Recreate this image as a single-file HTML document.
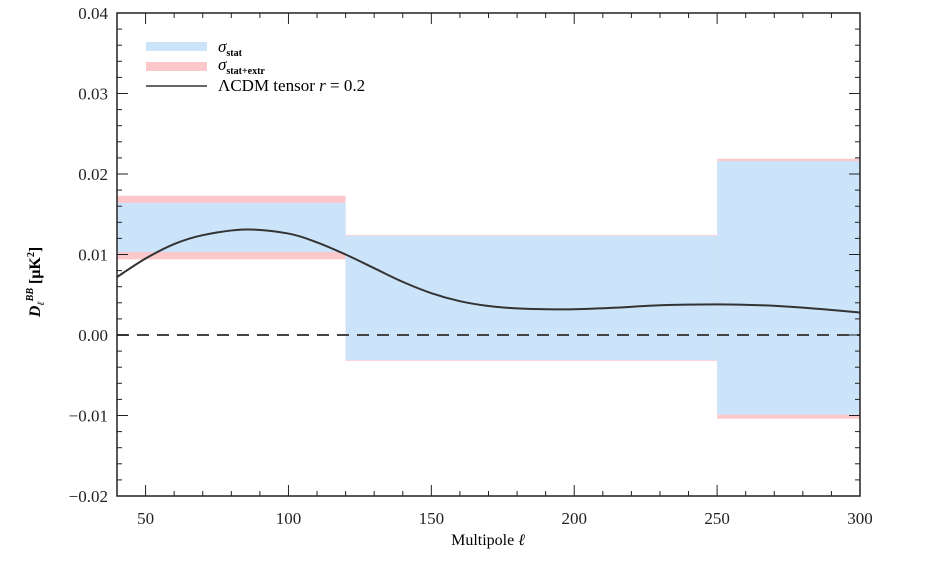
<!DOCTYPE html>
<html><head><meta charset="utf-8"><style>
body{margin:0;background:#fff}
svg{display:block;font-family:"Liberation Serif",serif}
</style></head><body>
<svg id="c" width="927" height="573"></svg>
<script>
const binEdges=[40,120,250,300];
const statLo=[0.0103,-0.0031,-0.0099];
const statHi=[0.0164,0.0123,0.0216];
const extrLo=[0.0094,-0.0032,-0.0104];
const extrHi=[0.0173,0.0124,0.0219];
const curveEll=[40,50,60,70,85,100,110,120,130,140,150,160,170,180,190,200,215,230,250,265,280,300];
const curveVal=[0.0072,0.0095,0.0113,0.0124,0.0131,0.0126,0.0115,0.0100,0.0083,0.0066,0.0052,0.0042,0.0036,0.0033,0.0032,0.0032,0.0034,0.0037,0.0038,0.0037,0.0034,0.0028];
const xTicks=[50,100,150,200,250,300];
const yTicks=[-0.02,-0.01,0.00,0.01,0.02,0.03,0.04];
const yTickLabels=["\u22120.02","\u22120.01","0.00","0.01","0.02","0.03","0.04"];

const L=117,R=860,T=13,B=496,X0=40,X1=300,Y0=-0.02,Y1=0.04;
const sx=v=>L+(v-X0)/(X1-X0)*(R-L);
const sy=v=>B-(v-Y0)/(Y1-Y0)*(B-T);
const svg=document.getElementById('c');
const NS='http://www.w3.org/2000/svg';
function mk(tag,a,parent){const e=document.createElementNS(NS,tag);for(const k in a)e.setAttribute(k,a[k]);(parent||svg).appendChild(e);return e;}

for(let i=0;i<binEdges.length-1;i++){
  const x0=sx(binEdges[i]),x1=sx(binEdges[i+1]);
  const p=mk('rect',{x:x0,y:sy(extrHi[i]),width:x1-x0,height:sy(extrLo[i])-sy(extrHi[i]),fill:'#fcc8cc'});
  
  
  const b=mk('rect',{x:x0,y:sy(statHi[i]),width:x1-x0,height:sy(statLo[i])-sy(statHi[i]),fill:'#cce4fa'});
  
  
}
const z=mk('line',{x1:L,x2:R,y1:sy(0),y2:sy(0),stroke:'#444','stroke-width':2,'stroke-dasharray':'12,8'});



// curve (catmull-rom)
const pts=curveEll.map((e,i)=>[sx(e),sy(curveVal[i])]);
let d='M'+pts[0][0]+','+pts[0][1];
for(let i=0;i<pts.length-1;i++){
  const p0=pts[Math.max(0,i-1)],p1=pts[i],p2=pts[i+1],p3=pts[Math.min(pts.length-1,i+2)];
  d+=` C${p1[0]+(p2[0]-p0[0])/6},${p1[1]+(p2[1]-p0[1])/6} ${p2[0]-(p3[0]-p1[0])/6},${p2[1]-(p3[1]-p1[1])/6} ${p2[0]},${p2[1]}`;
}
const cv=mk('path',{d:d,fill:'none',stroke:'#333','stroke-width':2});



// frame
const fr=mk('rect',{x:L,y:T,width:R-L,height:B-T,fill:'none',stroke:'#222','stroke-width':1.5});


// ticks
for(let v=X0;v<=X1;v+=10){
  const x=sx(v),len=(v%50===0)?11:5;
  mk('line',{x1:x,x2:x,y1:B,y2:B-len,stroke:'#222','stroke-width':1});
  mk('line',{x1:x,x2:x,y1:T,y2:T+len,stroke:'#222','stroke-width':1});
}
for(let k=0;k<=30;k++){
  const v=Y0+k*0.002,y=sy(v),len=(k%5===0)?11:5;
  mk('line',{x1:L,x2:L+len,y1:y,y2:y,stroke:'#222','stroke-width':1});
  mk('line',{x1:R,x2:R-len,y1:y,y2:y,stroke:'#222','stroke-width':1});
}
xTicks.forEach(v=>{
  const t=mk('text',{x:sx(v),y:524,'text-anchor':'middle','font-size':17,fill:'#222'});
  t.textContent=v;
  
  
});
yTicks.forEach((v,i)=>{
  const t=mk('text',{x:108,y:sy(v)+6,'text-anchor':'end','font-size':17,fill:'#222'});
  t.textContent=yTickLabels[i];
  
  
});
</script>
<svg width="927" height="573" style="position:absolute;left:0;top:0">
<text x="488" y="545" text-anchor="middle" font-family="Liberation Serif,serif" font-size="16">Multipole <tspan font-style="italic">ℓ</tspan></text>
<text transform="translate(40,282) rotate(-90)" text-anchor="middle" font-family="Liberation Serif,serif" font-size="16" font-weight="bold"><tspan font-style="italic">D</tspan><tspan font-size="10" dy="4" font-style="italic">ℓ</tspan><tspan font-size="10" dy="-11" font-style="italic">BB</tspan><tspan dy="7"> [μK</tspan><tspan font-size="10" dy="-6">2</tspan><tspan dy="6">]</tspan></text>
<g font-family="Liberation Serif,serif">
<rect x="146" y="42" width="61" height="9" fill="#cce4fa"/>
<text x="218" y="52" font-size="17" font-style="italic">σ<tspan font-size="10" font-style="normal" font-weight="bold" dy="4">stat</tspan></text>
<rect x="146" y="62" width="61" height="9" fill="#fcc8cc"/>
<text x="218" y="70" font-size="17" font-style="italic">σ<tspan font-size="10" font-style="normal" font-weight="bold" dy="4">stat+extr</tspan></text>
<line x1="146" x2="207" y1="86" y2="86" stroke="#333" stroke-width="1.5"/>
<text x="218" y="91" font-size="17">ΛCDM tensor <tspan font-style="italic">r</tspan> = 0.2</text>
</g>
</svg>
</body></html>
